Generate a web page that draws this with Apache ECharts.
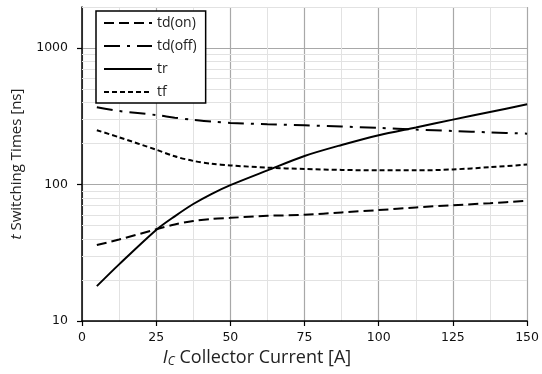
<!DOCTYPE html>
<html>
<head>
<meta charset="utf-8">
<script src="https://cdn.jsdelivr.net/npm/echarts@6/dist/echarts.min.js"></script>
<style>
  html, body { margin: 0; padding: 0; background: #fff; }
  #chart { width: 542px; height: 374px; }
</style>
</head>
<body>
<div id="chart"></div>
<script>
// collector current [A]
const current = [5, 12.5, 25, 31.25, 37.5, 43.75, 50, 62.5, 75, 87.5, 100, 112.5, 125, 137.5, 150];
// switching times [ns]
const tdOn  = [36, 39.5, 47, 51, 54, 56, 57, 59, 60, 62.5, 65, 68, 70.5, 73, 76];
const tdOff = [368, 346, 323, 309, 298, 289, 283, 277, 272, 266, 260, 253, 247, 241, 236];
const tr    = [18, 26, 46.5, 58.5, 72, 85.5, 99, 127, 162, 195, 230, 262, 299, 340, 387];
const tf    = [250, 222, 180, 161, 149, 142, 138, 133, 130, 128, 127, 127, 129, 134, 140];
const xTicks = [0, 25, 50, 75, 100, 125, 150];
const yDecades = [10, 100, 1000];
// light grid lines between decades
const yMinor = [20, 30, 40, 50, 60, 70, 80, 90, 200, 300, 400, 500, 600, 700, 800, 900, 2000];

const FONT = '"Open Sans", sans-serif';
const TICKFONT = '"DejaVu Sans", sans-serif';
const INK = '#222';

function pairs(ys) {
  return current.map((x, i) => [x, ys[i]]);
}

function curve(name, ys, dash) {
  return {
    name: name,
    type: 'line',
    data: pairs(ys),
    smooth: 0.3,
    symbol: 'none',
    lineStyle: { color: '#000', width: 2, type: dash },
    itemStyle: { color: '#000' },
    z: 3
  };
}

const chart = echarts.init(document.getElementById('chart'), null, { renderer: 'canvas' });

const series = [
  curve('td(on)', tdOn, [10, 5]),
  curve('td(off)', tdOff, [16, 7, 3, 7]),
  curve('tr', tr, 'solid'),
  curve('tf', tf, [5, 3])
];

// minor horizontal grid drawn as silent mark lines on the log scale
series[0].markLine = {
  silent: true,
  symbol: 'none',
  label: { show: false },
  lineStyle: { color: '#e2e2e2', width: 1, type: 'solid' },
  data: yMinor.map(v => ({ yAxis: v })),
  z: 1
};

chart.setOption({
  backgroundColor: '#fff',
  animation: false,
  textStyle: { fontFamily: FONT, color: INK },
  grid: { left: 82, right: 14, top: 7, bottom: 53 },
  legend: {
    orient: 'vertical',
    left: 96,
    top: 11,
    data: ['td(on)', 'td(off)', 'tr', 'tf'],
    itemWidth: 48,
    itemHeight: 14,
    itemGap: 9,
    padding: [5, 9, 4, 7],
    borderColor: '#000',
    borderWidth: 1.5,
    backgroundColor: '#fff',
    itemStyle: { opacity: 0 },
    textStyle: { fontFamily: FONT, fontSize: 14, color: INK, padding: [0, 0, 0, 0] }
  },
  xAxis: {
    type: 'value',
    min: 0,
    max: 150,
    interval: 25,
    name: '{i|I}{sub|C} Collector Current [A]',
    nameLocation: 'middle',
    nameGap: 26,
    nameTextStyle: {
      fontFamily: FONT,
      fontSize: 18,
      color: INK,
      padding: [0, 95, 0, 0],
      rich: {
        i: { fontFamily: FONT, fontSize: 18, fontStyle: 'italic', color: INK },
        sub: { fontFamily: FONT, fontSize: 12, fontStyle: 'italic', color: INK, padding: [8, 0, 0, 0] }
      }
    },
    axisLine: { show: true, onZero: false, lineStyle: { color: '#000', width: 1.5 } },
    axisTick: { show: true, inside: false, length: 5, lineStyle: { color: '#000', width: 1.2 } },
    axisLabel: {
      fontFamily: TICKFONT, fontSize: 12.5, color: '#111', margin: 10,
      customValues: xTicks
    },
    splitLine: { show: true, lineStyle: { color: '#a8a8a8', width: 1.2 } },
    minorTick: { show: false, splitNumber: 2 },
    minorSplitLine: { show: true, lineStyle: { color: '#e2e2e2', width: 1 } }
  },
  yAxis: {
    type: 'log',
    logBase: 10,
    min: 10,
    max: 2000,
    name: '{i|t} Switching Times [ns]',
    nameLocation: 'middle',
    nameGap: 58,
    nameTextStyle: {
      fontFamily: FONT,
      fontSize: 15,
      color: INK,
      rich: {
        i: { fontFamily: FONT, fontSize: 15, fontStyle: 'italic', color: INK }
      }
    },
    axisLine: { show: true, lineStyle: { color: '#000', width: 1.5 } },
    axisTick: { show: true, inside: false, length: 5, customValues: yDecades, lineStyle: { color: '#000', width: 1.2 } },
    axisLabel: {
      fontFamily: TICKFONT, fontSize: 12.5, color: '#111', margin: 14,
      customValues: yDecades,
      formatter: v => String(Math.round(v))
    },
    splitLine: { show: true, lineStyle: { color: '#a8a8a8', width: 1.2 } }
  },
  series: series
});
</script>
</body>
</html>
